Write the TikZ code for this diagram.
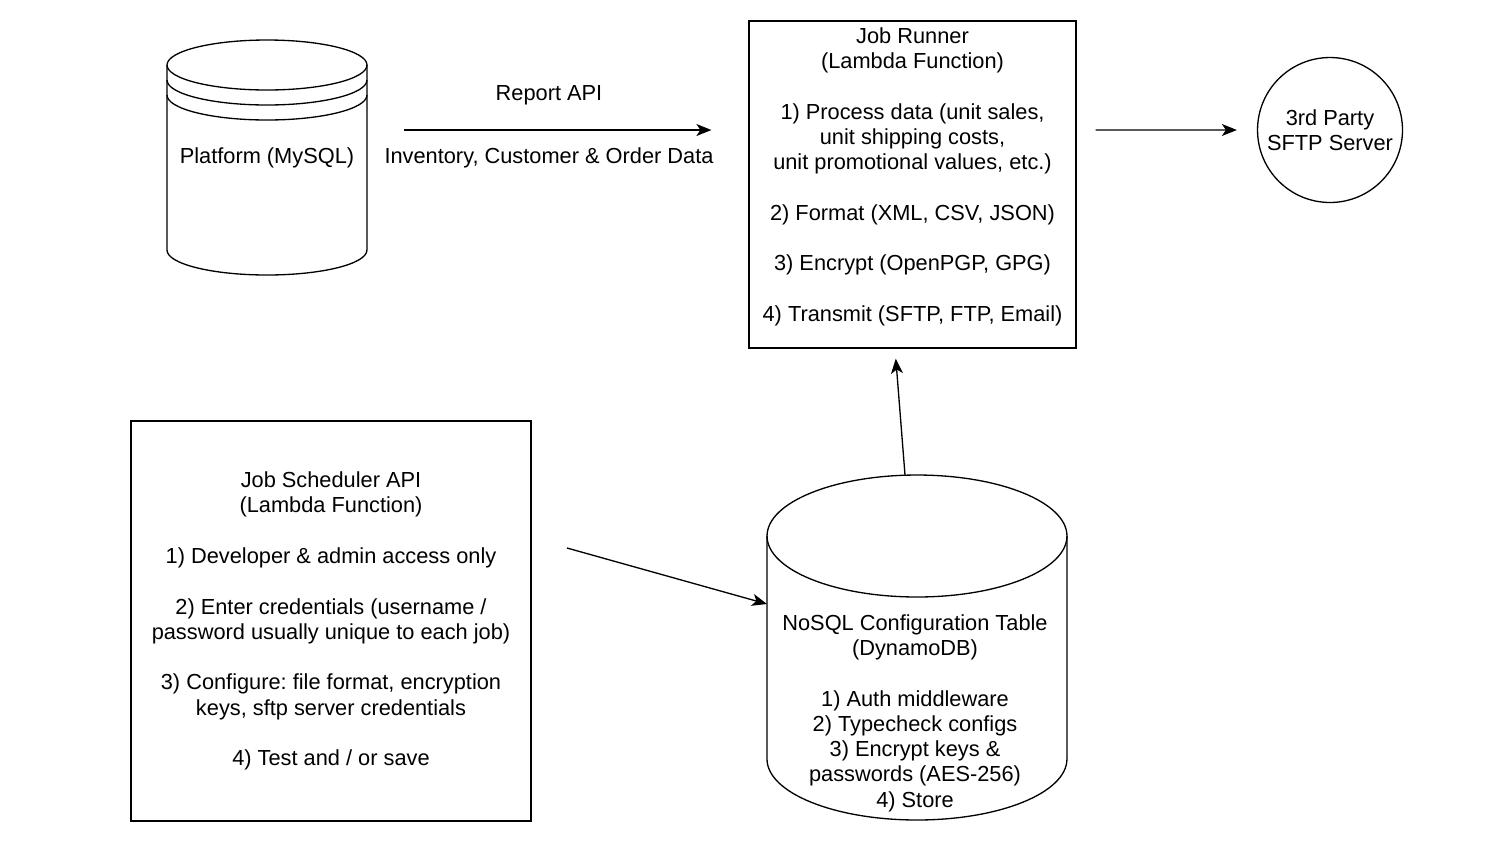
\documentclass[tikz,border=0pt]{standalone}
\usepackage{fontspec}
\setmainfont{Liberation Sans}
\usetikzlibrary{arrows.meta,positioning}
\frenchspacing

\begin{document}
\begin{tikzpicture}[x=0.02cm,y=0.02cm,line width=0.75pt,
    txt/.style={align=center,font=\fontsize{12.4}{14.4}\selectfont},
    arr/.style={-{Stealth[length=0.3cm,width=0.24cm,inset=0.08cm]}}]
\useasboundingbox (0,0) rectangle (1500,-843);

% platform database
\draw (167,-65) -- (167,-250) arc[start angle=180,end angle=360,x radius=2cm,y radius=0.5cm] -- (367,-65);
\draw (267,-65) ellipse [x radius=2cm,y radius=0.5cm];
\foreach \y in {-80,-95}
    \draw (167,\y) arc[start angle=180,end angle=360,x radius=2cm,y radius=0.5cm];
\node[txt,minimum width=4cm,minimum height=4.7cm] (platform) at (267,-157.5) {Platform (MySQL)};

% job runner
\node[txt,draw,minimum width=6.54cm,minimum height=6.54cm] (runner) at (912.5,-184.5)
    {Job Runner\\(Lambda Function)\\[14.4pt]
     1) Process data (unit sales,\\unit shipping costs,\\unit promotional values, etc.)\\[14.4pt]
     2) Format (XML, CSV, JSON)\\[14.4pt]
     3) Encrypt (OpenPGP, GPG)\\[14.4pt]
     4) Transmit (SFTP, FTP, Email)\\[-3pt]\mbox{}};

\node[txt,draw,circle,minimum size=2.9cm,inner sep=0pt] (sftp) at (1330,-130) {3rd Party\\SFTP Server};

% report api
\coordinate (api) at ([yshift=0.55cm]platform.east);
\draw[arr,shorten <=0.72cm,shorten >=0.74cm] (api) -- (api -| runner.west);
\node[txt] (apiname) at (549,-95) {Report API};
\node[txt] (apidata) at (549,-158) {Inventory, Customer \& Order Data};

\draw[arr,shorten <=0.38cm,shorten >=0.4cm] (api -| runner.east) -- (sftp.west);

% config table
\draw (767,-536) -- (767,-759) arc[start angle=180,end angle=360,x radius=3cm,y radius=1.22cm] -- (1067,-536);
\draw (917,-536) ellipse [x radius=3cm,y radius=1.22cm];
\node[txt] (nosql) at (915,-713)
    {NoSQL Configuration Table\\(DynamoDB)\\[14.4pt]
     1) Auth middleware\\2) Typecheck configs\\3) Encrypt keys \&\\passwords (AES-256)\\4) Store};

% job scheduler
\node[txt,draw,minimum width=8cm,minimum height=8cm] (scheduler) at (331,-621)
    {Job Scheduler API\\(Lambda Function)\\[14.4pt]
     1) Developer \& admin access only\\[14.4pt]
     2) Enter credentials (username /\\password usually unique to each job)\\[14.4pt]
     3) Configure: file format, encryption\\keys, sftp server credentials\\[14.4pt]
     4) Test and / or save};

\coordinate (nosqlTop) at (905,-475);
\coordinate (nosqlSide) at (767,-604);
\coordinate (cfgFrom) at (567,-548);
\draw[arr,shorten >=0.2cm] (nosqlTop) -- ([xshift=-0.35cm]runner.south);
\draw[arr] (cfgFrom) -- (nosqlSide);
\end{tikzpicture}
\end{document}
